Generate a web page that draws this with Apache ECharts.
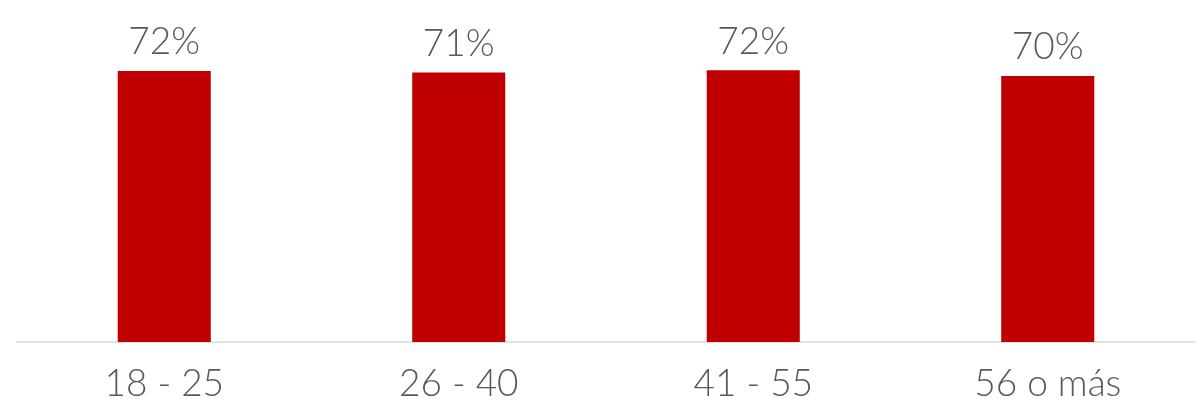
<!DOCTYPE html>
<html>
<head>
<meta charset="utf-8">
<script src="https://cdn.jsdelivr.net/npm/echarts@6/dist/echarts.min.js"></script>
<style>html,body{margin:0;padding:0;background:#fff}#c{width:1204px;height:419px}</style>
</head>
<body>
<div id="c"></div>
<script>
const categories = ['18 - 25', '26 - 40', '41 - 55', '56 o más'];
const values = [72.0, 71.6, 72.2, 70.7];
const labels = ['72%', '71%', '72%', '70%'];

const chart = echarts.init(document.getElementById('c'), null, {renderer: 'canvas'});
const font = "Lato, 'DejaVu Sans', sans-serif";
chart.setOption({
  animation: false,
  grid: {left: 17, right: 9, top: 40.9, bottom: 77, containLabel: false},
  xAxis: {
    type: 'category',
    data: categories,
    axisLine: {lineStyle: {color: '#D9D9D9', width: 1.5}},
    axisTick: {show: false},
    axisLabel: {color: '#595959', fontSize: 37, fontWeight: 300, fontFamily: font, margin: 24}
  },
  yAxis: {type: 'value', min: 0, max: 80, show: false, splitLine: {show: false}},
  series: [{
    type: 'bar',
    data: values,
    barWidth: '31.6%',
    itemStyle: {color: '#C00000'},
    label: {
      show: true, position: 'top', distance: 10,
      color: '#595959', fontSize: 37, fontWeight: 300, fontFamily: font,
      formatter: p => labels[p.dataIndex]
    }
  }]
});
</script>
</body>
</html>
